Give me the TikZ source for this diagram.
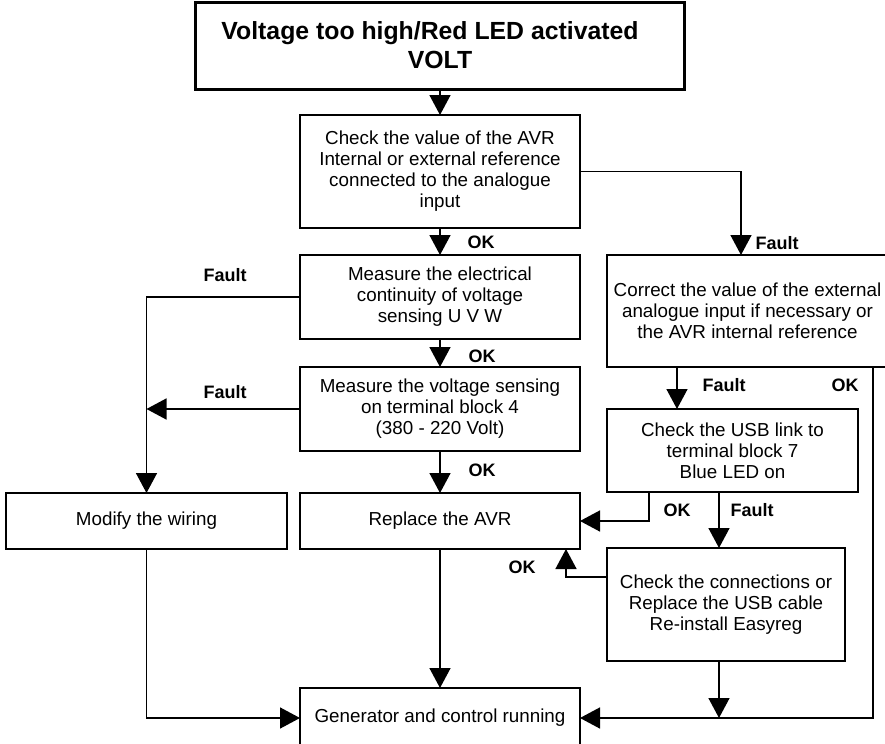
\documentclass[tikz,border=0pt]{standalone}
\usepackage{fontspec}
\setmainfont{Liberation Sans}
\usetikzlibrary{arrows.meta,positioning}

\begin{document}
\begin{tikzpicture}[x=0.5pt, y=-0.5pt, >={Triangle[length=10pt,width=10.5pt]},
                    box/.style={draw, line width=0.75pt, align=center, inner sep=0pt, outer sep=0pt,
                                font=\fontsize{9.4}{10.5}\selectfont},
                    lbl/.style={font=\fontsize{9}{10}\selectfont\bfseries, inner sep=0pt},
                    every path/.style={line width=0.75pt}]
  \useasboundingbox (0,0) rectangle (885,744);
  \node[box, line width=1.5pt, minimum width=244.5pt, minimum height=43.5pt,
        font=\fontsize{12.4}{14.5}\selectfont\bfseries] (title) at (440,45.5)
        {Voltage too high/Red LED activated\hspace*{10pt}\\VOLT};
  \node[box, minimum width=140pt, minimum height=56.5pt] (check)   at (440,171.5)
        {Check the value of the AVR\\Internal or external reference\\connected to the analogue\\input};
  \node[box, minimum width=140pt, minimum height=42pt]   (cont)    at (440,297)
        {Measure the electrical\\continuity of voltage\\sensing U V W};
  \node[box, minimum width=140pt, minimum height=42pt]   (sense)   at (440,409)
        {Measure the voltage sensing\\on terminal block 4\\(380 - 220 Volt)};
  \node[box, minimum width=140.5pt, minimum height=28pt] (modify)  at (146.5,521) {Modify the wiring};
  \node[box, minimum width=140pt, minimum height=28pt]   (replace) at (440,521) {Replace the AVR};
  \node[box, minimum width=140pt, minimum height=30pt]   (gen)     at (440,718) {Generator and control running};
  \node[box, minimum width=140.5pt, minimum height=56pt] (correct) at (747.5,311)
        {Correct the value of the external\\analogue input if necessary or\\the AVR internal reference};
  \node[box, minimum width=125.5pt, minimum height=41.5pt] (usb)   at (732.5,450.5)
        {Check the USB link to\\terminal block 7\\Blue LED on};
  \node[box, minimum width=119pt, minimum height=56.5pt] (conn)    at (726,604.5)
        {Check the connections or\\Replace the USB cable\\Re-install Easyreg};

  \node[lbl] (okcheck)    at (481,242) {OK};
  \node[lbl] (faultcheck) at (777,243) {Fault};
  \node[lbl] (faultcont)  at (225,275) {Fault};
  \node[lbl] (okcont)     at (482,356) {OK};
  \node[lbl] (faultsense) at (225,392) {Fault};
  \node[lbl] (oksense)    at (482,470) {OK};
  \node[lbl] (faultcorr)  at (724,385) {Fault};
  \node[lbl] (okcorr)     at (845,385) {OK};
  \node[lbl] (okusb)      at (677,510) {OK};
  \node[lbl] (faultusb)   at (752,510) {Fault};
  \node[lbl] (okconn)     at (522,567) {OK};

  \draw[->] (title) -- (check);
  \draw[->] (check) -- (cont);
  \draw[->] (cont) -- (sense);
  \draw[->] (sense) -- (replace);
  \draw[->] (replace) -- (gen);
  \draw[->] (check.east) -| ([xshift=-3.25pt]correct.north);
  \draw[->] (cont.west) -| (modify.north);
  \draw[->] (sense.west) -- (sense.west -| modify.north);
  \draw[->] (modify.south) |- (gen.west);
  \draw[->] ([xshift=-35.25pt]correct.south) -- ([xshift=-35.25pt]correct.south |- usb.north);
  \draw[->] ([xshift=62.75pt]correct.south) |- (gen.east);
  \draw[->] ([xshift=-41.75pt]usb.south) |- (replace.east);
  \draw[->] ([xshift=-6.75pt]usb.south) -- ([xshift=-6.75pt]usb.south |- conn.north);
  \draw[->] ([xshift=-3.5pt]conn.south) -- ([xshift=-3.5pt]conn.south |- gen.east);
  \draw[->] ([yshift=13.75pt]conn.west) -| ([xshift=63pt]replace.south);
\end{tikzpicture}
\end{document}
